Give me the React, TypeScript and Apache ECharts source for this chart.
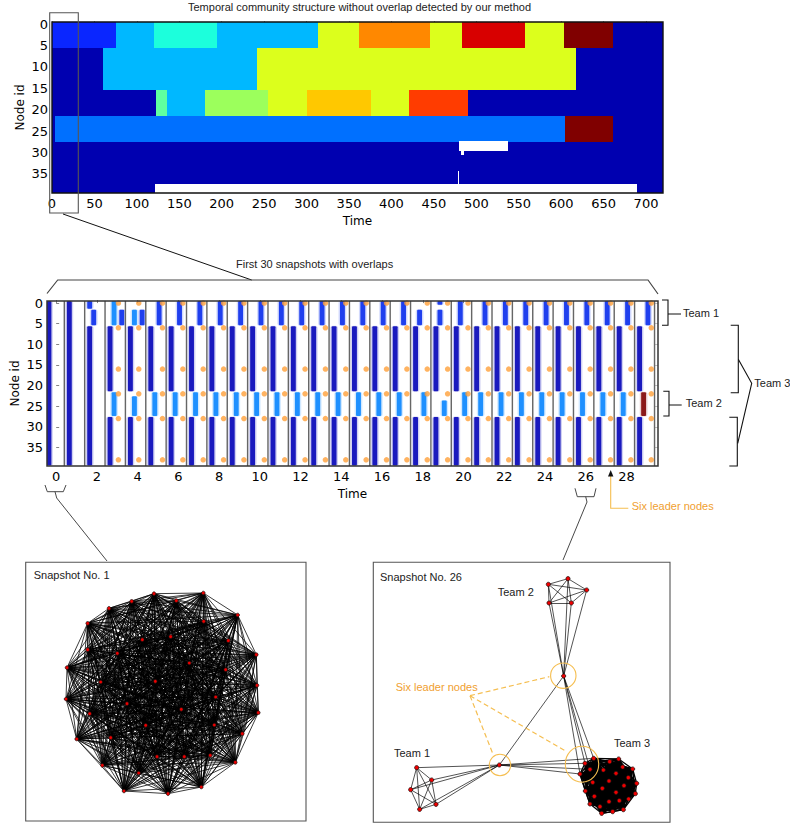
import React, { useEffect, useRef } from "react";
import * as echarts from "echarts";

// ---------- Top panel: community blocks [timeStart, timeEnd, rowStart, rowEnd, colour name]
const jet: Record<string, string> = {
  navy: "#0000B0", royal: "#0A26FF", azure: "#0070FF", sky: "#00B8FF", aqua: "#1CFFDC",
  mint: "#60FFA0", lime: "#9CFF5C", chartreuse: "#DCFF1C", amber: "#FFC800", orange: "#FF8800",
  vermilion: "#FF3C00", red: "#D80000", maroon: "#800000", white: "#FFFFFF",
};
const blocksTeam1 = [
  [0, 76, -0.5, 5.5, "royal"], [76, 120, -0.5, 5.5, "sky"], [120, 195, -0.5, 5.5, "aqua"],
  [195, 314, -0.5, 5.5, "sky"], [314, 362, -0.5, 5.5, "chartreuse"], [362, 446, -0.5, 5.5, "orange"],
  [446, 483, -0.5, 5.5, "chartreuse"], [483, 557, -0.5, 5.5, "red"], [557, 603, -0.5, 5.5, "chartreuse"],
  [603, 661, -0.5, 5.5, "maroon"], [661, 720, -0.5, 5.5, "navy"],
];
const blocksTeam3a = [
  [0, 60.5, 5.5, 15.5, "navy"], [60.5, 241, 5.5, 15.5, "sky"], [241, 617, 5.5, 15.5, "chartreuse"],
  [617, 720, 5.5, 15.5, "navy"],
];
const blocksTeam3b = [
  [0, 123, 15.5, 21.5, "navy"], [123, 135, 15.5, 21.5, "mint"], [135, 180, 15.5, 21.5, "sky"],
  [180, 255, 15.5, 21.5, "lime"], [255, 300, 15.5, 21.5, "chartreuse"], [300, 376, 15.5, 21.5, "amber"],
  [376, 421, 15.5, 21.5, "chartreuse"], [421, 490, 15.5, 21.5, "vermilion"], [490, 720, 15.5, 21.5, "navy"],
];
const blocksTeam2 = [
  [0, 3, 21.5, 27.5, "navy"], [3, 605, 21.5, 27.5, "azure"], [605, 661, 21.5, 27.5, "maroon"],
  [661, 720, 21.5, 27.5, "navy"],
];
const blocksTeam3c = [
  [0, 720, 27.5, 39.5, "navy"], [479.5, 537, 27.3, 29.7, "white"], [482, 486, 29.7, 30.7, "white"],
  [121, 689, 37.4, 39.5, "white"], [478, 479.2, 34.3, 37.4, "white"],
];
const topXLabels = [0, 50, 100, 150, 200, 250, 300, 350, 400, 450, 500, 550, 600, 650, 700];
const nodeLabels = [0, 5, 10, 15, 20, 25, 30, 35];

// ---------- Lower panel: [snapshot, slot in that snapshot, rowStart, rowEnd]
const lowerXLabels = [0, 2, 4, 6, 8, 10, 12, 14, 16, 18, 20, 22, 24, 26, 28];
const snapshotEdges = [0.4, 1.4, 2.4, 3.4, 4.4, 5.4, 6.4, 7.4, 8.4, 9.4, 10.4, 11.4, 12.4, 13.4, 14.4, 15.4, 16.4, 17.4, 18.4, 19.4, 20.4, 21.4, 22.4, 23.4, 24.4, 25.4, 26.4, 27.4, 28.4, 29.38];
const slotOffsets = [-0.354, -0.157, 0.056, 0.22];
const wholeBars = [[0, 0, 0, 39], [1, 0, 0, 39], [2, 0, 6, 39]];
const team3Snapshots = [3, 4, 5, 6, 7, 8, 9, 10, 11, 12, 13, 14, 15, 16, 17, 18, 19, 20, 21, 22, 23, 24, 25, 26, 27, 28, 29];
const team1Bars = [
  [2, 0, 0, 1], [2, 1, 2, 5], [3, 3, 2, 5], [4, 3, 2, 5], [5, 2, 0, 5], [6, 2, 0, 5], [7, 2, 0, 5],
  [8, 2, 0, 5], [9, 2, 0, 5], [10, 2, 0, 5], [11, 2, 0, 5], [12, 2, 0, 5], [13, 2, 0, 5], [14, 2, 0, 5],
  [15, 2, 0, 5], [16, 2, 0, 5], [17, 2, 0, 5], [18, 1, 2, 5], [19, 1, 0, 0], [19, 1, 2, 5], [20, 1, 0, 5],
  [21, 2, 0, 5], [22, 2, 0, 5], [23, 2, 0, 5], [24, 2, 0, 5], [25, 2, 0, 5], [26, 2, 0, 5], [27, 2, 0, 5],
  [28, 2, 0, 5], [29, 2, 0, 5],
];
const azureBars = [
  [3, 1, 0, 5], [3, 1, 22, 27], [4, 1, 2, 5], [4, 1, 23, 27], [5, 1, 22, 27], [6, 1, 22, 27], [7, 1, 22, 27],
  [8, 1, 22, 27], [9, 1, 22, 27], [10, 1, 22, 27], [11, 1, 22, 27], [12, 1, 22, 27], [13, 1, 22, 27],
  [14, 1, 22, 27], [15, 1, 22, 27], [16, 1, 22, 27], [17, 1, 22, 27], [18, 2, 22, 27], [19, 2, 24, 27],
  [20, 2, 22, 27], [21, 1, 22, 27], [22, 1, 22, 27], [23, 1, 22, 27], [24, 1, 22, 27], [25, 1, 22, 27],
  [26, 1, 22, 27], [27, 1, 22, 27], [28, 1, 22, 27],
];
const maroonBars = [[29, 1, 22, 27]];
const leaderRows = [0, 6, 16, 22, 28, 38];
const leaderSlotBySnapshot = [
  [3, 2], [4, 2], [5, 3], [6, 3], [7, 3], [8, 3], [9, 3], [10, 3], [11, 3], [12, 3], [13, 3], [14, 3], [15, 3],
  [16, 3], [17, 3], [18, 3], [19, 3], [20, 3], [21, 3], [22, 3], [23, 3], [24, 3], [25, 3], [26, 3], [27, 3],
  [28, 3], [29, 3],
];

// ---------- Snapshot networks: node places
const snapshot1Nodes = [
  [402, 116], [469, 137], [550, 114], [653, 180], [709, 299], [711, 391], [715, 473], [667, 536], [646, 622],
  [544, 696], [444, 716], [312, 708], [247, 631], [170, 552], [138, 432], [141, 338], [203, 205], [267, 160],
  [335, 139], [551, 199], [452, 245], [367, 254], [625, 257], [203, 284], [292, 295], [508, 324], [617, 344],
  [242, 381], [406, 379], [587, 426], [321, 446], [209, 476], [484, 463], [583, 510], [377, 511], [272, 548],
  [571, 601], [493, 605], [411, 605], [356, 654],
];
const team1Nodes = [[140, 638], [185, 675], [122, 704], [198, 748], [149, 763]];
const team2Nodes = [[535, 88], [594, 71], [650, 105], [604, 144], [537, 144]];
const team3Nodes = [
  [671, 610], [645, 625], [660, 643], [630, 657], [746, 612], [700, 645], [738, 655], [758, 636], [775, 668],
  [800, 685], [762, 692], [717, 678], [796, 716], [738, 712], [697, 700], [668, 682], [646, 708], [673, 724],
  [717, 740], [748, 737], [776, 732], [660, 747], [760, 764], [728, 770], [695, 775], [719, 620], [788, 642],
  [690, 755],
];
const hubNodes = [[388, 630], [581, 363]];
const team3LeaderCount = 4;

const FONT_AXIS = "DejaVu Sans";
const FONT_NOTE = "Liberation Sans";

function rectItem(api: any, x0: number, x1: number, y0: number, y1: number, fill: string, opacity = 1, snap = false, r = 0) {
  const a = api.coord([x0, y0]);
  const b = api.coord([x1, y1]);
  const f = snap ? Math.round : (v: number) => v;
  const x = f(a[0]), y = f(a[1]);
  return { type: "rect", shape: { x, y, width: f(b[0]) - x, height: f(b[1]) - y, r }, style: { fill, opacity } };
}

function completeLinks(offset: number, count: number, lineStyle?: any) {
  const links: any[] = [];
  for (let i = 0; i < count; i++) for (let j = i + 1; j < count; j++) {
    links.push(lineStyle ? { source: offset + i, target: offset + j, lineStyle } : { source: offset + i, target: offset + j });
  }
  return links;
}

function buildOption() {
  const topData = [...blocksTeam1, ...blocksTeam3a, ...blocksTeam3b, ...blocksTeam2, ...blocksTeam3c];
  const barRow = (b: number[], kind: string) => [b[0] + slotOffsets[b[1]], b[2], b[3], kind];
  const team3Bars: any[] = [];
  team3Snapshots.forEach((n) => {
    team3Bars.push(barRow([n, 0, 6, 21], "dark"), barRow([n, 0, 28, 39], "dark"));
  });
  const lowerData = [
    ...wholeBars.map((b) => barRow(b, "dark")),
    ...team3Bars,
    ...team1Bars.map((b) => barRow(b, "blue")),
    ...azureBars.map((b) => barRow(b, "azure")),
    ...maroonBars.map((b) => barRow(b, "maroon")),
  ];
  const barColours: Record<string, string> = { dark: "#1A1ABE", blue: "#1F3FEE", azure: "#1E90FF", maroon: "#8B1A1A" };
  const leaderData: number[][] = [];
  leaderSlotBySnapshot.forEach(([n, s]) => leaderRows.forEach((r) => leaderData.push([n + slotOffsets[s], r])));

  const net2Nodes = [...team1Nodes, ...team2Nodes, ...team3Nodes, ...hubNodes];
  const t1 = 0, t2 = team1Nodes.length, t3 = t2 + team2Nodes.length, hubs = t3 + team3Nodes.length;
  const net2Links = [
    ...completeLinks(t1, team1Nodes.length),
    ...completeLinks(t2, team2Nodes.length),
    ...completeLinks(t3, team3Nodes.length, { width: 1.3, opacity: 1, color: "#000" }),
    { source: hubs, target: hubs + 1 },
  ];
  team1Nodes.forEach((_, i) => net2Links.push({ source: hubs, target: t1 + i }));
  team2Nodes.forEach((_, i) => net2Links.push({ source: hubs + 1, target: t2 + i }));
  for (let i = 0; i < team3LeaderCount; i++) {
    net2Links.push({ source: hubs, target: t3 + i }, { source: hubs + 1, target: t3 + i });
  }

  const tickLabelStyle = { fontFamily: FONT_AXIS, fontSize: 13, color: "#000", margin: 4 };
  const nameStyle = { fontFamily: FONT_AXIS, fontSize: 12, color: "#000" };
  const tick = { show: true, inside: true, length: 3, lineStyle: { color: "#333", width: 0.6 } };

  const dotStyle = { color: "#F00000", borderColor: "#111", borderWidth: 0.7 };
  const line = (x1: number, y1: number, x2: number, y2: number, stroke = "#111", lineWidth = 1, extra: any = {}) => ({
    type: "line", z: 100, shape: { x1, y1, x2, y2 }, style: { stroke, lineWidth, ...extra }, silent: true,
  });
  const poly = (points: number[][], stroke = "#111", lineWidth = 1.1) => ({
    type: "polyline", z: 100, shape: { points }, style: { stroke, lineWidth, fill: "none" }, silent: true,
  });
  const note = (text: string, x: number, y: number, fill = "#222", size = 11) => ({
    type: "text", z: 101, silent: true,
    style: { text, x, y, fill, font: `${size}px "${FONT_NOTE}"`, align: "left", verticalAlign: "middle" },
  });
  const frame = (x: number, y: number, width: number, height: number, stroke = "#111", lineWidth = 1.4) => ({
    type: "rect", z: 99, silent: true, shape: { x, y, width, height }, style: { stroke, lineWidth, fill: "none" },
  });
  const ORANGE_TEXT = "#F0A030";
  const ORANGE_LINE = "#F5BE50";

  return {
    animation: false,
    backgroundColor: "#fff",
    grid: [
      { left: 52, top: 22, width: 611, height: 171 },
      { left: 47, top: 301, width: 611, height: 165 },
      { left: 20, top: 555, width: 300, height: 270 },
      { left: 370, top: 555, width: 305, height: 270 },
    ],
    xAxis: [
      {
        gridIndex: 0, type: "value", min: 0, max: 720, name: "Time", nameLocation: "middle", nameGap: 22, nameMoveOverlap: false,
        nameTextStyle: nameStyle, axisLine: { show: false }, splitLine: { show: false }, axisTick: { ...tick, customValues: topXLabels },
        axisLabel: { ...tickLabelStyle, customValues: topXLabels, hideOverlap: false },
      },
      {
        gridIndex: 1, type: "value", min: -0.45, max: 29.55, name: "Time", nameLocation: "middle", nameGap: 22, nameMoveOverlap: false,
        nameTextStyle: nameStyle, axisLine: { show: false }, splitLine: { show: false }, axisTick: { ...tick, customValues: lowerXLabels },
        axisLabel: { ...tickLabelStyle, customValues: lowerXLabels, hideOverlap: false },
      },
      { gridIndex: 2, type: "value", min: 0, max: 900, show: false },
      { gridIndex: 3, type: "value", min: 0, max: 915, show: false },
    ],
    yAxis: [
      {
        gridIndex: 0, type: "value", inverse: true, min: -0.5, max: 39.5, name: "Node id", nameLocation: "middle",
        nameGap: 26, nameMoveOverlap: false, nameRotate: 90, nameTextStyle: nameStyle, axisLine: { show: false }, splitLine: { show: false },
        axisTick: { ...tick, customValues: nodeLabels }, axisLabel: { ...tickLabelStyle, customValues: nodeLabels, hideOverlap: false },
      },
      {
        gridIndex: 0, type: "value", position: "right", inverse: true, min: -0.5, max: 39.5, axisLine: { show: false },
        splitLine: { show: false }, axisLabel: { show: false }, axisTick: { ...tick, customValues: nodeLabels },
      },
      {
        gridIndex: 1, type: "value", inverse: true, min: -0.5, max: 39.5, name: "Node id", nameLocation: "middle",
        nameGap: 26, nameMoveOverlap: false, nameRotate: 90, nameTextStyle: nameStyle, axisLine: { show: false }, splitLine: { show: false },
        axisTick: { ...tick, customValues: nodeLabels }, axisLabel: { ...tickLabelStyle, customValues: nodeLabels, hideOverlap: false },
      },
      {
        gridIndex: 1, type: "value", position: "right", inverse: true, min: -0.5, max: 39.5, axisLine: { show: false },
        splitLine: { show: false }, axisLabel: { show: false }, axisTick: { ...tick, length: 3, lineStyle: { color: "#999", width: 0.6 }, customValues: nodeLabels },
      },
      { gridIndex: 2, type: "value", inverse: true, min: 0, max: 810, show: false },
      { gridIndex: 3, type: "value", inverse: true, min: 0, max: 810, show: false },
    ],
    series: [
      {
        type: "custom", xAxisIndex: 0, yAxisIndex: 0, silent: true, clip: true, data: topData,
        encode: { x: [0, 1], y: [2, 3] },
        renderItem: (params: any, api: any) => {
          const d: any = topData[params.dataIndex];
          return rectItem(api, d[0], d[1], d[2], d[3], jet[d[4]], 1, true);
        },
      },
      {
        type: "custom", xAxisIndex: 1, yAxisIndex: 2, silent: true, clip: true, data: lowerData,
        encode: { x: 0, y: [1, 2] },
        renderItem: (params: any, api: any) => {
          const d: any = lowerData[params.dataIndex];
          const fill = barColours[d[3]];
          const end = d[2] + 0.4;
          const start = d[1] === 0 ? -0.5 : d[1] - 0.4;
          return {
            type: "group",
            children: [
              rectItem(api, d[0] - 0.19, d[0] + 0.19, start - 0.1, end + 0.1, fill, 0.2, false, 2.5),
              rectItem(api, d[0] - 0.12, d[0] + 0.12, start, end, fill, 1, false, 1),
            ],
          };
        },
      },
      {
        type: "custom", xAxisIndex: 1, yAxisIndex: 2, silent: true, clip: true, data: snapshotEdges.map((x) => [x]),
        encode: { x: 0 },
        renderItem: (params: any, api: any) => {
          const x = snapshotEdges[params.dataIndex];
          return rectItem(api, x - 0.035, x + 0.035, -0.5, 39.5, "#666");
        },
      },
      {
        type: "scatter", xAxisIndex: 1, yAxisIndex: 2, silent: true, data: leaderData, symbol: "circle", symbolSize: 5.5,
        itemStyle: { color: "#FFA03A" }, clip: true,
      },
      {
        type: "graph", coordinateSystem: "cartesian2d", xAxisIndex: 2, yAxisIndex: 4, layout: "none", silent: true,
        data: snapshot1Nodes, symbol: "circle", symbolSize: 3.6, itemStyle: dotStyle,
        links: completeLinks(0, snapshot1Nodes.length), edgeSymbol: ["none", "none"],
        lineStyle: { color: "#000", width: 0.9, opacity: 0.85, curveness: 0 }, label: { show: false },
      },
      {
        type: "graph", coordinateSystem: "cartesian2d", xAxisIndex: 3, yAxisIndex: 5, layout: "none", silent: true,
        data: net2Nodes, symbol: "circle", symbolSize: 4.2, itemStyle: dotStyle,
        links: net2Links, edgeSymbol: ["none", "none"],
        lineStyle: { color: "#000", width: 0.8, opacity: 0.85, curveness: 0 }, label: { show: false },
      },
    ],
    graphic: {
      elements: [
        frame(52, 22, 611, 171),
        frame(47, 301, 611, 165, "#333", 1.5),
        frame(25.7, 562.3, 280.3, 258.7, "#555", 1.1),
        frame(373.3, 562.3, 296.7, 260, "#555", 1.1),
        frame(49.7, 12.7, 28.6, 200.3, "#555", 1.1),
        line(63, 214, 251.7, 280),
        poly([[47, 293.5], [57.7, 280], [648, 280], [658, 294]], "#444", 1.2),
        note("Temporal community structure without overlap detected by our method", 188, 6.5),
        note("First 30 snapshots with overlaps", 236, 264.3),
        poly([[662, 300], [668, 300], [668, 325.3], [662, 325.3]]),
        line(668, 314, 681, 314),
        note("Team 1", 683, 312.7),
        poly([[663.3, 391.3], [669, 391.3], [669, 416], [663.3, 416]]),
        line(669, 405, 681.7, 405),
        note("Team 2", 685.7, 402.7),
        poly([[730.7, 325.3], [738.3, 325.3], [738.3, 392.7], [730.7, 392.7]]),
        poly([[729.3, 417.3], [737.3, 417.3], [737.3, 466], [729.3, 466]]),
        poly([[738.3, 359.3], [751.7, 383.3], [737.7, 443.3]]),
        note("Team 3", 754.3, 382.7),
        poly([[610.7, 476], [610.7, 508.3], [628.3, 508.3]], ORANGE_LINE, 1.1),
        { type: "polygon", z: 100, silent: true, shape: { points: [[610.7, 470], [608, 476.5], [613.4, 476.5]] }, style: { fill: "#111" } },
        note("Six leader nodes", 631.7, 506, ORANGE_TEXT),
        poly([[45, 485], [47.3, 491.7], [63.3, 491.7], [66, 485]], "#333", 0.9),
        poly([[55, 491.7], [56.7, 498], [107, 561]], "#333", 0.9),
        poly([[575, 488.3], [577.3, 496.7], [594, 496.7], [596, 488.3]], "#333", 0.9),
        poly([[585.7, 496.7], [587, 502], [563, 560]], "#333", 0.9),
        note("Snapshot No. 1", 33.7, 575),
        note("Snapshot No. 26", 380, 576.7),
        note("Team 2", 497.7, 591.7),
        note("Team 1", 394, 753),
        note("Team 3", 614, 743.3),
        note("Six leader nodes", 395.7, 687.3, ORANGE_TEXT),
        { type: "ellipse", z: 100, silent: true, shape: { cx: 563.3, cy: 675.7, rx: 12.7, ry: 12.7 }, style: { stroke: ORANGE_LINE, lineWidth: 1.1, fill: "none" } },
        { type: "ellipse", z: 100, silent: true, shape: { cx: 500, cy: 765, rx: 10.7, ry: 10.7 }, style: { stroke: ORANGE_LINE, lineWidth: 1.1, fill: "none" } },
        { type: "ellipse", z: 100, silent: true, shape: { cx: 582, cy: 764.2, rx: 16.7, ry: 18 }, style: { stroke: ORANGE_LINE, lineWidth: 1.1, fill: "none" } },
        line(470, 695.7, 549.3, 676.7, ORANGE_LINE, 1.2, { lineDash: [5, 3] }),
        line(470, 695.7, 493.3, 755, ORANGE_LINE, 1.2, { lineDash: [5, 3] }),
        line(470, 695.7, 566.7, 751.7, ORANGE_LINE, 1.2, { lineDash: [5, 3] }),
      ],
    },
  };
}

export default function App() {
  const ref = useRef<HTMLDivElement | null>(null);
  useEffect(() => {
    document.body.style.margin = "0";
    const chart = echarts.init(ref.current!, undefined, { renderer: "svg" });
    chart.setOption(buildOption() as any);
    return () => chart.dispose();
  }, []);
  return <div ref={ref} style={{ width: 790, height: 831 }} />;
}
